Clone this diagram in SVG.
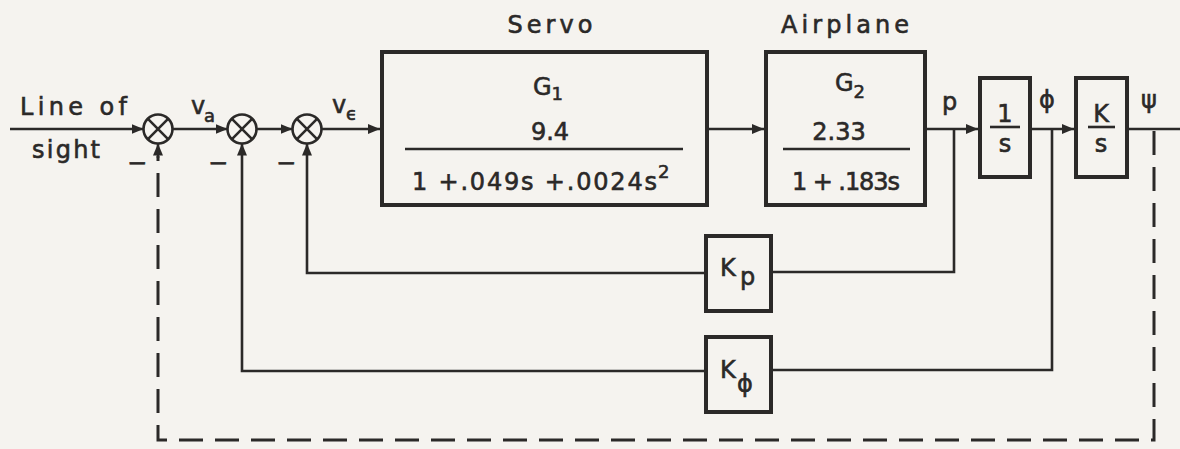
<svg xmlns="http://www.w3.org/2000/svg" width="1180" height="449" viewBox="0 0 1180 449">
<style>
.ln{stroke:#2b2928;stroke-width:2.6;fill:none}
.dash{stroke:#2b2928;stroke-width:3;fill:none;stroke-dasharray:24 12}
.box{stroke:#2b2928;stroke-width:4;fill:none}
.sum{stroke:#2b2928;stroke-width:2.6;fill:none}
.t{font-family:"DejaVu Sans","Liberation Sans",sans-serif;font-size:24px;fill:#2b2928;stroke:#2b2928;stroke-width:0.6}
.s{font-size:18px}
.m{text-anchor:middle}
</style>
<defs>
<marker id="ah" viewBox="0 0 12 10" refX="12" refY="5" markerWidth="12" markerHeight="10" markerUnits="userSpaceOnUse" orient="auto">
<path d="M0,0 L12,5 L0,10 Z" fill="#2b2928"/>
</marker>
</defs>
<rect width="1180" height="449" fill="#f5f3ef"/>

<g id="input-label">
<text class="t" x="20" y="115" textLength="107" lengthAdjust="spacing">Line of</text>
<text class="t" x="32" y="158" textLength="68" lengthAdjust="spacing">sight</text>
</g>

<g id="sum1">
<circle class="sum" cx="158" cy="129" r="14.5"/>
<path class="sum" d="M147.7,118.7 L168.3,139.3 M168.3,118.7 L147.7,139.3"/>
<text class="t m" x="137" y="171">−</text>
</g>
<g id="sum2">
<circle class="sum" cx="242" cy="129" r="14.5"/>
<path class="sum" d="M231.7,118.7 L252.3,139.3 M252.3,118.7 L231.7,139.3"/>
<text class="t m" x="218" y="171">−</text>
</g>
<g id="sum3">
<circle class="sum" cx="307" cy="129" r="14.5"/>
<path class="sum" d="M296.7,118.7 L317.3,139.3 M317.3,118.7 L296.7,139.3"/>
<text class="t m" x="286" y="171">−</text>
</g>

<g id="signal-labels">
<text class="t" x="191" y="114" font-size="22">v</text>
<text class="t s" x="204" y="122">a</text>
<text class="t" x="332" y="113" font-size="22">v</text>
<text class="t s" x="346" y="120">ϵ</text>
<text class="t" x="942" y="110">p</text>
<text class="t" x="1039" y="108" font-size="28">ϕ</text>
<text class="t" x="1141" y="108">ψ</text>
</g>

<g id="servo">
<text class="t m" x="550" y="33" textLength="85" lengthAdjust="spacing">Servo</text>
<rect class="box" x="382" y="52" width="325" height="153"/>
<text class="t" x="533" y="95">G<tspan class="s" dy="5">1</tspan></text>
<text class="t m" x="550" y="140" font-size="22">9.4</text>
<line class="ln" x1="405" y1="149" x2="683" y2="149"/>
<text class="t" x="412" y="190" font-size="22" textLength="245" lengthAdjust="spacing">1 +.049s +.0024s</text>
<text class="t s" x="658" y="178">2</text>
</g>

<g id="airplane">
<text class="t m" x="845" y="33" textLength="128" lengthAdjust="spacing">Airplane</text>
<rect class="box" x="766" y="52" width="159" height="153"/>
<text class="t" x="835" y="91">G<tspan class="s" dy="7">2</tspan></text>
<text class="t m" x="839" y="140" font-size="22">2.33</text>
<line class="ln" x1="783" y1="149" x2="910" y2="149"/>
<text class="t" x="792" y="190" font-size="22" textLength="108" lengthAdjust="spacing">1 + .183s</text>
</g>

<g id="integrator">
<rect class="box" x="980" y="78" width="50" height="99"/>
<text class="t m" x="1005" y="122">1</text>
<line class="ln" x1="990" y1="127" x2="1020" y2="127"/>
<text class="t m" x="1005" y="152">s</text>
</g>

<g id="heading">
<rect class="box" x="1076" y="78" width="51" height="99"/>
<text class="t m" x="1101" y="122">K</text>
<line class="ln" x1="1088" y1="127" x2="1115" y2="127"/>
<text class="t m" x="1101" y="152">s</text>
</g>

<g id="kp">
<rect class="box" x="706" y="236" width="65" height="75"/>
<text class="t" x="720" y="276" font-size="26">K</text>
<text class="t" x="740" y="285" font-size="24">p</text>
</g>

<g id="kphi">
<rect class="box" x="706" y="337" width="65" height="75"/>
<text class="t" x="720" y="378" font-size="26">K</text>
<text class="t" x="737" y="392" font-size="27">ϕ</text>
</g>

<g id="connectors">
<line class="ln" x1="10" y1="129" x2="143.5" y2="129" marker-end="url(#ah)"/>
<line class="ln" x1="172.5" y1="129" x2="227.5" y2="129" marker-end="url(#ah)"/>
<line class="ln" x1="256.5" y1="129" x2="292.5" y2="129" marker-end="url(#ah)"/>
<line class="ln" x1="321.5" y1="129" x2="380" y2="129" marker-end="url(#ah)"/>
<line class="ln" x1="709" y1="129" x2="764" y2="129" marker-end="url(#ah)"/>
<line class="ln" x1="927" y1="129" x2="978" y2="129" marker-end="url(#ah)"/>
<line class="ln" x1="1032" y1="129" x2="1074" y2="129" marker-end="url(#ah)"/>
<line class="ln" x1="1129" y1="129" x2="1180" y2="129"/>
<polyline class="ln" points="954,129 954,272 773,272"/>
<polyline class="ln" points="704,273 307,273 307,143.5" marker-end="url(#ah)"/>
<polyline class="ln" points="1052,129 1052,370 773,370"/>
<polyline class="ln" points="704,371 242,371 242,143.5" marker-end="url(#ah)"/>
<polyline class="dash" points="1154,131 1154,440 158,440 158,156"/>
<line class="ln" x1="158" y1="158" x2="158" y2="143.5" marker-end="url(#ah)"/>
</g>
</svg>
